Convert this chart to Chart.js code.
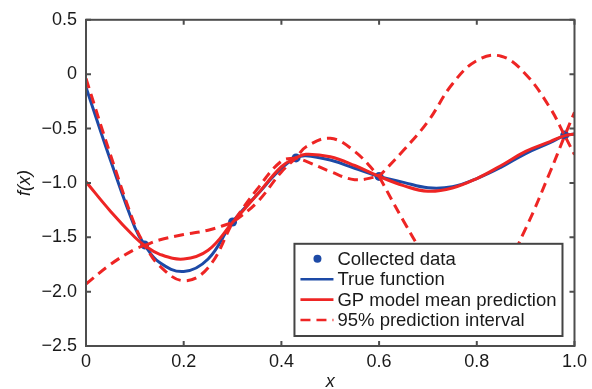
<!DOCTYPE html>
<html>
<head>
<meta charset="utf-8">
<script src="https://cdn.jsdelivr.net/npm/chart.js@4.4.1/dist/chart.umd.min.js"></script>
<style>
html,body{margin:0;padding:0;background:#ffffff;}
#wrap{width:592px;height:389px;position:relative;}
</style>
</head>
<body>
<div id="wrap"><canvas id="c"></canvas></div>
<script>
// ---- data ----
const xTicks = [0, 0.2, 0.4, 0.6, 0.8, 1.0];
const yTicks = [0.5, 0, -0.5, -1.0, -1.5, -2.0, -2.5];

const sampleX = [0, 0.05, 0.1, 0.12, 0.15, 0.2, 0.25, 0.3, 0.35, 0.4, 0.43, 0.45, 0.5, 0.55, 0.6, 0.65, 0.7, 0.75, 0.8, 0.85, 0.9, 0.95, 0.98, 1.0];
const trueY   = [-0.12, -0.79, -1.41, -1.57, -1.73, -1.815, -1.70, -1.36, -1.11, -0.865, -0.77, -0.75, -0.79, -0.865, -0.94, -0.995, -1.045, -1.035, -0.96, -0.855, -0.73, -0.63, -0.565, -0.55];
const meanY   = [-0.99, -1.26, -1.50, -1.575, -1.655, -1.70, -1.62, -1.365, -1.11, -0.85, -0.77, -0.737, -0.76, -0.84, -0.94, -1.025, -1.077, -1.047, -0.96, -0.84, -0.71, -0.62, -0.565, -0.55];

// interval bounds (x repeated at the collected points, where the band closes)
const bandX  = [0, 0.05, 0.1, 0.12, 0.12, 0.15, 0.2, 0.25, 0.3, 0.3, 0.35, 0.4, 0.43, 0.43, 0.45, 0.5, 0.55, 0.6, 0.6, 0.65, 0.7, 0.75, 0.8, 0.85, 0.9, 0.95, 0.98, 0.98, 1.0];
const upperY = [-0.04, -0.74, -1.39, -1.575, -1.575, -1.525, -1.475, -1.435, -1.365, -1.365, -1.06, -0.80, -0.77, -0.77, -0.67, -0.59, -0.71, -0.94, -0.94, -0.70, -0.435, -0.09, 0.125, 0.165, 0.0, -0.31, -0.565, -0.565, -0.35];
const lowerY = [-1.93, -1.75, -1.61, -1.575, -1.575, -1.76, -1.90, -1.78, -1.365, -1.365, -1.18, -0.90, -0.77, -0.77, -0.80, -0.895, -0.97, -0.94, -0.94, -1.35, -1.72, -2.00, -2.045, -1.845, -1.42, -0.90, -0.565, -0.565, -0.74];

const dataX = [0.12, 0.30, 0.43, 0.60, 0.98];
const dataY = [-1.57, -1.36, -0.77, -0.94, -0.56];

const seriesLabels = ['Collected data', 'True function', 'GP model mean prediction', '95% prediction interval'];

// ---- styles ----
const BLUE = '#1d4aa6';
const RED = '#ee2524';
const AXIS = '#4d4d4d';
const TEXT = '#1a1a1a';
const FONT = "'Liberation Sans', Arial, Helvetica, sans-serif";

const zip = (xs, ys) => xs.map((x, i) => ({x: x, y: ys[i]}));
const fmt = v => {
  if (Math.abs(v) < 1e-9) return '0';
  const s = Math.abs(v).toFixed(1);
  return v < 0 ? '\u2212' + s : s;
};

// frame with inward ticks on all four sides
const framePlugin = {
  id: 'frame',
  afterDatasetsDraw(chart) {
    const {ctx, chartArea: a, scales} = chart;
    ctx.save();
    ctx.strokeStyle = AXIS;
    ctx.lineWidth = 2;
    ctx.strokeRect(a.left, a.top, a.right - a.left, a.bottom - a.top);
    const tl = 5;
    ctx.beginPath();
    xTicks.forEach(v => {
      const px = scales.x.getPixelForValue(v);
      ctx.moveTo(px, a.bottom); ctx.lineTo(px, a.bottom - tl);
      ctx.moveTo(px, a.top); ctx.lineTo(px, a.top + tl);
    });
    yTicks.forEach(v => {
      const py = scales.y.getPixelForValue(v);
      ctx.moveTo(a.left, py); ctx.lineTo(a.left + tl, py);
      ctx.moveTo(a.right, py); ctx.lineTo(a.right - tl, py);
    });
    ctx.stroke();
    ctx.restore();
  }
};

// boxed legend inside the plot area (lower right)
const boxLegendPlugin = {
  id: 'boxLegend',
  afterDatasetsDraw(chart) {
    const {ctx, chartArea: a} = chart;
    const items = chart.data.datasets.filter(d => d.inLegend);
    ctx.save();
    ctx.font = '18.5px ' + FONT;
    const textW = Math.max(...items.map(d => ctx.measureText(d.label).width));
    const rowH = 20.4;
    const w = 43 + textW + 6;
    const h = 15 + rowH * (items.length - 1) + 16;
    const x0 = a.right - 12 - w;
    const y0 = a.bottom - 10 - h;
    ctx.fillStyle = '#ffffff';
    ctx.fillRect(x0, y0, w, h);
    ctx.strokeStyle = '#444444';
    ctx.lineWidth = 2;
    ctx.strokeRect(x0, y0, w, h);
    items.forEach((d, i) => {
      const cy = y0 + 15 + i * rowH;
      if (d.showLine === false) {
        ctx.fillStyle = d.pointBackgroundColor;
        ctx.beginPath();
        ctx.arc(x0 + 23, cy, 4, 0, Math.PI * 2);
        ctx.fill();
      } else {
        ctx.strokeStyle = d.borderColor;
        ctx.lineWidth = 2.6;
        ctx.setLineDash(d.borderDash || []);
        ctx.beginPath();
        ctx.moveTo(x0 + 6, cy);
        ctx.lineTo(x0 + 39, cy);
        ctx.stroke();
        ctx.setLineDash([]);
      }
      ctx.fillStyle = TEXT;
      ctx.textAlign = 'left';
      ctx.textBaseline = 'middle';
      ctx.fillText(d.label, x0 + 43, cy + 1);
    });
    ctx.restore();
  }
};

const lineCommon = {showLine: true, pointRadius: 0, pointHoverRadius: 0, fill: false, tension: 0.4};

new Chart(document.getElementById('c'), {
  type: 'scatter',
  data: {
    datasets: [
      {label: seriesLabels[0], data: zip(dataX, dataY), showLine: false, pointRadius: 4.5,
       pointBackgroundColor: BLUE, pointBorderColor: BLUE, pointBorderWidth: 0, order: 4, inLegend: true},
      Object.assign({label: seriesLabels[1], data: zip(sampleX, trueY), borderColor: BLUE, borderWidth: 3, order: 3, inLegend: true}, lineCommon),
      Object.assign({label: seriesLabels[2], data: zip(sampleX, meanY), borderColor: RED, borderWidth: 3, order: 2, inLegend: true}, lineCommon),
      Object.assign({label: seriesLabels[3], data: zip(bandX, upperY), borderColor: RED, borderWidth: 3, borderDash: [10, 6], order: 1, inLegend: true}, lineCommon),
      Object.assign({label: seriesLabels[3] + ' (lower)', data: zip(bandX, lowerY), borderColor: RED, borderWidth: 3, borderDash: [10, 6], order: 1, inLegend: false}, lineCommon)
    ]
  },
  options: {
    responsive: true,
    maintainAspectRatio: false,
    animation: false,
    events: [],
    layout: {padding: {top: 17, right: 15, left: 0, bottom: 0}},
    plugins: {legend: {display: false}, tooltip: {enabled: false}},
    scales: {
      x: {
        type: 'linear', min: 0, max: 1,
        afterFit: s => { s.height = 43; },
        afterBuildTicks: s => { s.ticks = xTicks.map(v => ({value: v})); },
        grid: {display: false, drawTicks: false},
        border: {display: false},
        ticks: {autoSkip: false, maxRotation: 0, padding: 5, color: TEXT,
                font: {family: FONT, size: 18}, callback: v => (v === 0 ? '0' : v.toFixed(1))},
        title: {display: true, text: 'x', color: TEXT, padding: 0,
                font: {family: FONT, size: 18, style: 'italic', lineHeight: 0.75}}
      },
      y: {
        type: 'linear', min: -2.5, max: 0.5,
        afterFit: s => { s.width = 86; },
        afterBuildTicks: s => { s.ticks = yTicks.map(v => ({value: v})); },
        grid: {display: false, drawTicks: false},
        border: {display: false},
        ticks: {autoSkip: false, padding: 9, color: TEXT,
                font: {family: FONT, size: 18}, callback: v => fmt(v)},
        title: {display: true, text: 'f(x)', color: TEXT, padding: {top: 14, bottom: 0},
                font: {family: FONT, size: 18, style: 'italic', lineHeight: 1.2}}
      }
    }
  },
  plugins: [framePlugin, boxLegendPlugin]
});
</script>
</body>
</html>
